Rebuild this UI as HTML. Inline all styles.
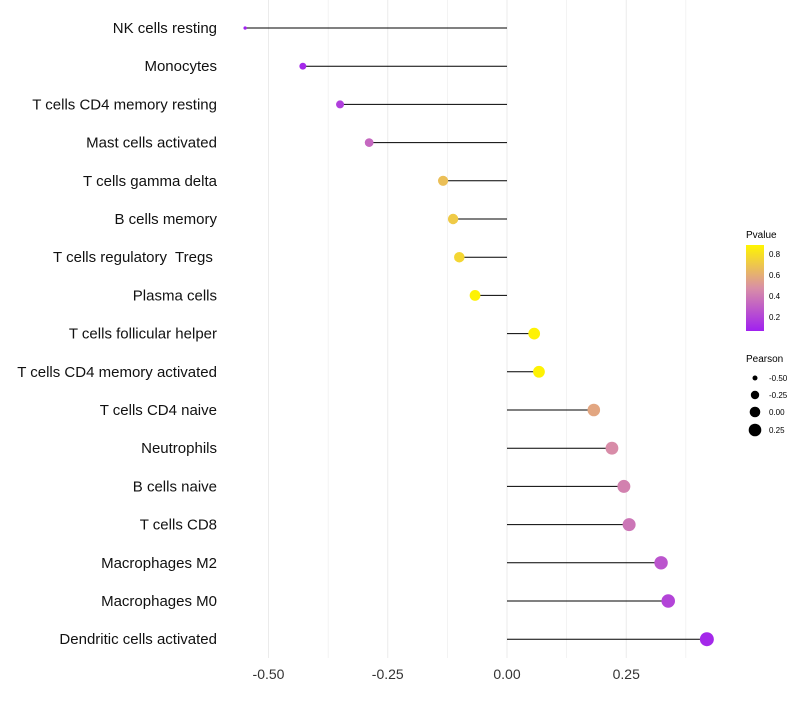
<!DOCTYPE html>
<html><head><meta charset="utf-8"><style>
body{margin:0;background:#fff;font-family:"Liberation Sans",sans-serif}
text{white-space:pre}
</style></head><body>
<svg id="chart" width="800" height="700" xmlns="http://www.w3.org/2000/svg">
<defs><linearGradient id="pg" x1="0" y1="1" x2="0" y2="0">
<stop offset="0" stop-color="#A020F0"/><stop offset="0.5" stop-color="#D98FA6"/><stop offset="1" stop-color="#FFF500"/></linearGradient></defs>
<g id="grid"></g><g id="marks"></g><g id="labels"></g>
<g>
<text x="746" y="238" font-size="10">Pvalue</text>
<rect x="746" y="245" width="18" height="86" fill="url(#pg)"/>
<text x="769" y="257" font-size="8">0.8</text><text x="769" y="278" font-size="8">0.6</text>
<text x="769" y="299" font-size="8">0.4</text><text x="769" y="320" font-size="8">0.2</text>
</g>
<g>
<text x="746" y="362" font-size="10">Pearson</text>
<circle cx="755" cy="378" r="2.5"/><text x="769" y="381" font-size="8">-0.50</text>
<circle cx="755" cy="395" r="4.2"/><text x="769" y="398" font-size="8">-0.25</text>
<circle cx="755" cy="412" r="5.3"/><text x="769" y="415" font-size="8">0.00</text>
<circle cx="755" cy="430" r="6.3"/><text x="769" y="433" font-size="8">0.25</text>
</g>
</svg>
<script>
const categories=["NK cells resting","Monocytes","T cells CD4 memory resting","Mast cells activated","T cells gamma delta","B cells memory","T cells regulatory  Tregs ","Plasma cells","T cells follicular helper","T cells CD4 memory activated","T cells CD4 naive","Neutrophils","B cells naive","T cells CD8","Macrophages M2","Macrophages M0","Dendritic cells activated"];
const pearson=[-0.549,-0.428,-0.35,-0.289,-0.134,-0.113,-0.10,-0.067,0.057,0.067,0.182,0.22,0.245,0.256,0.323,0.338,0.419];
const pvalue=[0.02,0.1,0.18,0.33,0.66,0.7,0.75,0.86,0.86,0.86,0.56,0.46,0.42,0.38,0.26,0.2,0.1];
const ticks=[-0.5,-0.25,0,0.25];
const tickLabels=["-0.50","-0.25","0.00","0.25"];
const NS="http://www.w3.org/2000/svg";
const x=v=>507+v*477;
const y=i=>28+i*38.2;
const r=v=>1.5+5.5*Math.sqrt(Math.max(0,(v+0.55)/0.97));
function col(p){const t=Math.max(0,Math.min(1,(p-0.07)/0.8));
const s=[[160,32,240],[217,143,166],[255,245,0]];let a,b,u;
if(t<0.5){a=s[0];b=s[1];u=t/0.5}else{a=s[1];b=s[2];u=(t-0.5)/0.5}
return `rgb(${a.map((c,k)=>Math.round(c+(b[k]-c)*u)).join(',')})`;}
function mk(tag,at,parent){const e=document.createElementNS(NS,tag);for(const k in at)e.setAttribute(k,at[k]);document.getElementById(parent).appendChild(e);return e;}
[-0.5,-0.375,-0.25,-0.125,0,0.125,0.25,0.375].forEach(v=>{
const l=mk('line',{x1:x(v),x2:x(v),y1:0,y2:658,stroke:'#ebebeb','stroke-width':ticks.includes(v)?1:0.6},'grid');

});
ticks.forEach((v,i)=>{const t=mk('text',{x:x(v),y:679,'font-size':14,'text-anchor':'middle',fill:'#333'},'labels');t.textContent=tickLabels[i];

});
categories.forEach((c,i)=>{
const t=mk('text',{x:217,y:y(i)+5,'font-size':15,'text-anchor':'end',fill:'#111'},'labels');t.textContent=c;


const l=mk('line',{x1:x(0),x2:x(pearson[i]),y1:y(i),y2:y(i),stroke:'#000','stroke-width':1},'marks');


const p=mk('circle',{cx:x(pearson[i]),cy:y(i),r:r(pearson[i]),fill:col(pvalue[i])},'marks');


});
</script>
</body></html>
